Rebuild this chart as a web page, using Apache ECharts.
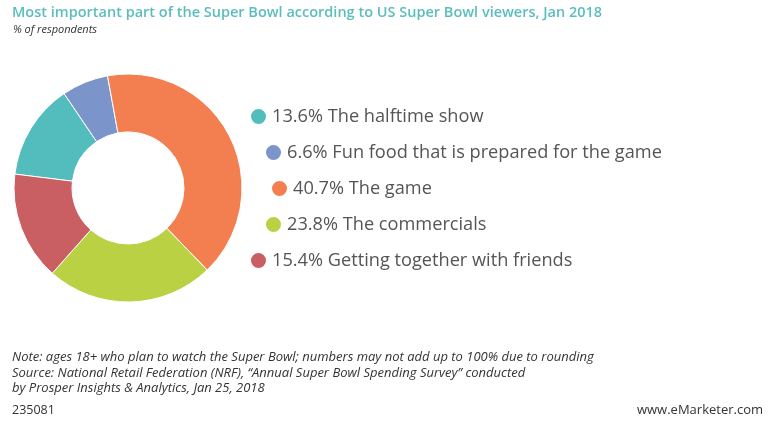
<!DOCTYPE html>
<html>
<head>
<meta charset="utf-8">
<script src="https://cdn.jsdelivr.net/npm/echarts@6/dist/echarts.min.js"></script>
<style>
  html, body { margin: 0; padding: 0; background: #fff; }
  #chart { width: 770px; height: 422px; }
</style>
</head>
<body>
<div id="chart"></div>
<script>
// data
const categories = [
    "The halftime show",
    "Fun food that is prepared for the game",
    "The game",
    "The commercials",
    "Getting together with friends"
];
const shares = [13.6, 6.6, 40.7, 23.8, 15.4];
const colors = ["#52bdbc", "#7b94ca", "#f37f51", "#b9d143", "#c95e63"];

// legend placement follows the arc of the donut
const legendLeft = [249, 264, 270, 264, 249];
const legendTop = [107, 143, 179, 215, 251];

const FONT = "'Open Sans', 'Noto Sans', sans-serif";

const chart = echarts.init(document.getElementById("chart"));

const legends = categories.map(function(name, i) {
    return {
        data: [name],
        orient: "vertical",
        left: legendLeft[i],
        top: legendTop[i],
        icon: "circle",
        itemWidth: 17,
        itemHeight: 17,
        itemGap: 0,
        selectedMode: false,
        padding: 0,
        textStyle: {
            fontFamily: FONT,
            fontSize: 18.2,
            color: "#555",
            padding: [0, 0, 0, 0]
        },
        formatter: function(n) {
            return shares[categories.indexOf(n)].toFixed(1) + "% " + n;
        }
    };
});

const option = {
    backgroundColor: "#fff",
    color: colors,
    animation: false,
    title: [
        {
            text: "Most important part of the Super Bowl according to US Super Bowl viewers, Jan 2018",
            left: 12,
            top: 5,
            padding: 0,
            textStyle: {
                fontFamily: FONT,
                fontSize: 14.5,
                fontWeight: 600,
                color: "#5bbdbf"
            }
        },
        {
            text: "% of respondents",
            left: 13,
            top: 24,
            padding: 0,
            textStyle: {
                fontFamily: FONT,
                fontSize: 11,
                fontStyle: "italic",
                fontWeight: "normal",
                color: "#333"
            }
        },
        {
            text: "Note: ages 18+ who plan to watch the Super Bowl; numbers may not add up to 100% due to rounding\nSource: National Retail Federation (NRF), \u201cAnnual Super Bowl Spending Survey\u201d conducted\nby Prosper Insights & Analytics, Jan 25, 2018",
            left: 12,
            top: 350,
            padding: 0,
            textStyle: {
                fontFamily: FONT,
                fontSize: 13,
                lineHeight: 15.5,
                fontStyle: "italic",
                fontWeight: "normal",
                color: "#333"
            }
        },
        {
            text: "235081",
            left: 12,
            top: 404,
            padding: 0,
            textStyle: {
                fontFamily: FONT,
                fontSize: 12.5,
                fontWeight: "normal",
                color: "#333"
            }
        },
        {
            text: "www.eMarketer.com",
            right: 7,
            top: 404,
            padding: 0,
            textStyle: {
                fontFamily: FONT,
                fontSize: 13,
                fontWeight: "normal",
                color: "#333"
            }
        }
    ],
    legend: legends,
    series: [
        {
            type: "pie",
            center: [128, 188],
            radius: [56, 114],
            startAngle: 173,
            clockwise: true,
            silent: true,
            label: { show: false },
            labelLine: { show: false },
            itemStyle: {
                borderColor: "#fff",
                borderWidth: 1
            },
            data: categories.map(function(name, i) {
                return { name: name, value: shares[i] };
            })
        }
    ]
};

chart.setOption(option);
</script>
</body>
</html>
